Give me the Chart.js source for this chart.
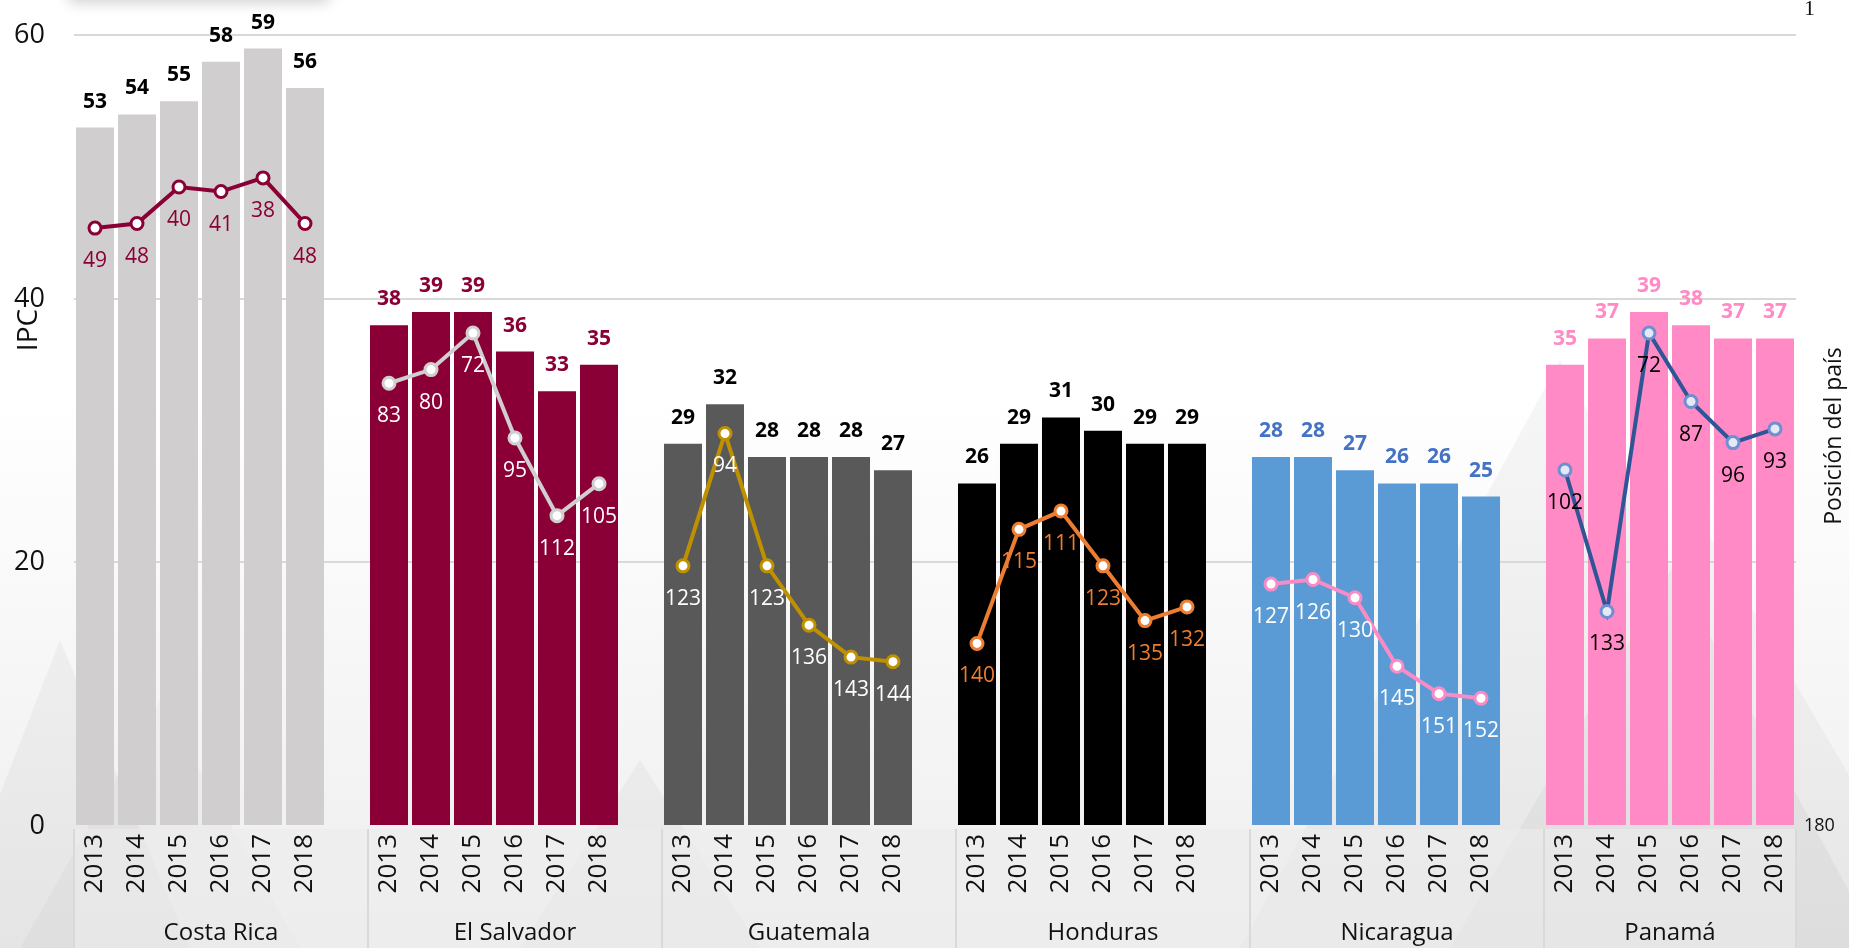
<!DOCTYPE html>
<html lang="es">
<head>
<meta charset="utf-8">
<title>IPC y posición del país</title>
<script src="https://cdn.jsdelivr.net/npm/chart.js@4.4.1/dist/chart.umd.min.js"></script>
<style>
  html, body { margin: 0; padding: 0; width: 1849px; height: 948px; overflow: hidden; background: #fff; }
  .wrap {
    position: relative; width: 1849px; height: 948px; overflow: hidden;
    background: linear-gradient(180deg, rgba(255,255,255,0) 42%, rgba(226,226,226,0.6) 100%), #fff;
  }
  .deco { position: absolute; left: 0; top: 0; }
  .shadow { position: absolute; left: 68px; top: -30px; width: 262px; height: 30px; background: #fff; box-shadow: 0 3px 14px rgba(0,0,0,0.18); border-radius: 6px; }
  canvas { position: absolute; left: 0; top: 0; }
</style>
</head>
<body>
<div class="wrap">
  <svg class="deco" width="1849" height="948">
    <polygon points="-60,948 60,640 190,948" fill="rgba(0,0,0,0.035)"/>
    <polygon points="20,948 160,700 300,948" fill="rgba(0,0,0,0.025)"/>
    <polygon points="520,948 640,760 760,948" fill="rgba(0,0,0,0.03)"/>
    <polygon points="1240,948 1560,360 1880,948" fill="rgba(0,0,0,0.035)"/>
    <polygon points="1450,948 1700,520 1950,948" fill="rgba(0,0,0,0.03)"/>
  </svg>
  <div class="shadow"></div>
  <canvas id="chart" width="1849" height="948"></canvas>
</div>
<script>
// --- datos ---
const countries = ['Costa Rica', 'El Salvador', 'Guatemala', 'Honduras', 'Nicaragua', 'Panamá'];
const years = ['2013', '2014', '2015', '2016', '2017', '2018'];

// IPC (barras, eje izquierdo)
const ipcCostaRica  = [53, 54, 55, 58, 59, 56];
const ipcElSalvador = [38, 39, 39, 36, 33, 35];
const ipcGuatemala  = [29, 32, 28, 28, 28, 27];
const ipcHonduras   = [26, 29, 31, 30, 29, 29];
const ipcNicaragua  = [28, 28, 27, 26, 26, 25];
const ipcPanama     = [35, 37, 39, 38, 37, 37];

// Posición del país (líneas, eje derecho invertido)
const rankCostaRica  = [49, 48, 40, 41, 38, 48];
const rankElSalvador = [83, 80, 72, 95, 112, 105];
const rankGuatemala  = [123, 94, 123, 136, 143, 144];
const rankHonduras   = [140, 115, 111, 123, 135, 132];
const rankNicaragua  = [127, 126, 130, 145, 151, 152];
const rankPanama     = [102, 133, 72, 87, 96, 93];

const ipcTicks = [0, 20, 40, 60];
const rankTicks = [1, 180];

const ipcSeries = [ipcCostaRica, ipcElSalvador, ipcGuatemala, ipcHonduras, ipcNicaragua, ipcPanama];
const rankSeries = [rankCostaRica, rankElSalvador, rankGuatemala, rankHonduras, rankNicaragua, rankPanama];

// --- estilos ---
const FONT = "'Open Sans', sans-serif";
const barColors      = ['#D0CECE', '#8A0036', '#595959', '#000000', '#5B9BD5', '#FF8AC5'];
const barLabelColors = ['#000000', '#8A0036', '#000000', '#000000', '#4472C4', '#FF8AC5'];
const lineColors     = ['#8A0036', '#D0CECE', '#BF9000', '#ED7D31', '#F98BC6', '#2F5597'];
const pointFills     = ['#FFFFFF', '#FFFFFF', '#FFFFFF', '#FFFFFF', '#FFFFFF', '#E4EAF5'];
const pointBorders   = ['#8A0036', '#D0CECE', '#BF9000', '#ED7D31', '#F98BC6', '#6E8FD2'];
const lineLabelColors = ['#8A0036', '#FFFFFF', '#FFFFFF', '#ED7D31', '#FFFFFF', '#000000'];

// 6 años + un hueco por país (el último sin hueco)
const slotsPerGroup = years.length + 1;
const labels = [];
countries.forEach((c, i) => {
  years.forEach(y => labels.push(y));
  if (i < countries.length - 1) labels.push('');
});

const spread = (arr, i) => {
  const out = new Array(labels.length).fill(null);
  arr.forEach((v, j) => { out[i * slotsPerGroup + j] = v; });
  return out;
};

const datasets = [];
countries.forEach((c, i) => {
  datasets.push({
    type: 'line', label: c + ' posición', data: spread(rankSeries[i], i), yAxisID: 'y2',
    borderColor: lineColors[i], borderWidth: 4, spanGaps: false,
    pointRadius: 6, pointBorderWidth: 3, pointBackgroundColor: pointFills[i], pointBorderColor: pointBorders[i],
    order: 0, kind: 'rank', idx: i
  });
});
countries.forEach((c, i) => {
  datasets.push({
    type: 'bar', label: c + ' IPC', data: spread(ipcSeries[i], i), yAxisID: 'y',
    backgroundColor: barColors[i], grouped: false, barPercentage: 0.905, categoryPercentage: 1,
    order: 1, kind: 'ipc', idx: i
  });
});

// fondo del eje X, separadores y nombres de país
const axisBoxes = {
  id: 'axisBoxes',
  beforeDraw(chart) {
    const { ctx, chartArea, scales: { x } } = chart;
    const slot = (x.right - x.left) / labels.length;
    ctx.save();
    ctx.fillStyle = 'rgba(236,236,236,0.6)';
    ctx.fillRect(chartArea.left, chartArea.bottom + 3, chartArea.right - chartArea.left, chart.height - chartArea.bottom);
    ctx.strokeStyle = '#D9D9D9';
    ctx.lineWidth = 2;
    for (let k = 0; k <= countries.length; k++) {
      const px = Math.min(x.left + k * slotsPerGroup * slot, x.right);
      ctx.beginPath();
      ctx.moveTo(px, chartArea.bottom + 3);
      ctx.lineTo(px, chart.height);
      ctx.stroke();
    }
    ctx.restore();
  },
  afterDraw(chart) {
    const { ctx, scales: { x } } = chart;
    const slot = (x.right - x.left) / labels.length;
    ctx.save();
    ctx.fillStyle = '#111';
    ctx.font = '24px ' + FONT;
    ctx.textAlign = 'center';
    ctx.textBaseline = 'middle';
    countries.forEach((c, k) => {
      const a = x.left + k * slotsPerGroup * slot;
      const b = Math.min(a + slotsPerGroup * slot, x.right);
      ctx.fillText(c, (a + b) / 2, 933);
    });
    // títulos de los ejes
    ctx.font = '28px ' + FONT;
    ctx.translate(29, 330);
    ctx.rotate(-Math.PI / 2);
    ctx.fillText('IPC', 0, 0);
    ctx.restore();
    ctx.save();
    ctx.fillStyle = '#111';
    ctx.font = '23px ' + FONT;
    ctx.textAlign = 'center';
    ctx.textBaseline = 'middle';
    ctx.translate(1834, 436);
    ctx.rotate(-Math.PI / 2);
    ctx.fillText('Posición del país', 0, 0);
    ctx.restore();
  }
};

// etiquetas de datos
const valueLabels = {
  id: 'valueLabels',
  afterDatasetsDraw(chart) {
    const { ctx } = chart;
    ctx.save();
    ctx.textAlign = 'center';
    ctx.textBaseline = 'middle';
    chart.data.datasets.forEach((ds, di) => {
      const meta = chart.getDatasetMeta(di);
      meta.data.forEach((el, j) => {
        const v = ds.data[j];
        if (v === null) return;
        if (ds.kind === 'ipc') {
          ctx.font = 'bold 21px ' + FONT;
          ctx.fillStyle = barLabelColors[ds.idx];
          ctx.fillText(v, el.x, el.y - 26);
        } else {
          ctx.font = '21px ' + FONT;
          ctx.fillStyle = lineLabelColors[ds.idx];
          ctx.fillText(v, el.x, el.y + 33);
        }
      });
    });
    ctx.restore();
  }
};

new Chart(document.getElementById('chart').getContext('2d'), {
  data: { labels, datasets },
  plugins: [axisBoxes, valueLabels],
  options: {
    responsive: false,
    animation: false,
    layout: { padding: { top: 3, left: 0, right: 0, bottom: 0 } },
    plugins: { legend: { display: false }, tooltip: { enabled: false } },
    scales: {
      x: {
        type: 'category',
        grid: { display: false, drawTicks: false },
        border: { display: false },
        ticks: { autoSkip: false, minRotation: 90, maxRotation: 90, padding: 8, color: '#111', font: { family: FONT, size: 26 } },
        afterFit(axis) { axis.height = 122; axis.paddingLeft = 0; axis.paddingRight = 0; }
      },
      y: {
        position: 'left', min: 0, max: 62,
        grid: { color: (c) => c.tick && c.tick.value === 0 ? 'rgba(0,0,0,0)' : '#D9D9D9', lineWidth: 2, drawTicks: false },
        border: { display: false },
        ticks: { padding: 29, color: '#111', font: { family: FONT, size: 27 } },
        afterBuildTicks(axis) { axis.ticks = ipcTicks.map(v => ({ value: v })); },
        afterFit(axis) { axis.width = 74; axis.paddingTop = 0; axis.paddingBottom = 0; }
      },
      y2: {
        position: 'right', reverse: true, min: 1, max: 180,
        grid: { display: false, drawTicks: false },
        border: { display: false },
        ticks: {
          padding: 8, color: '#111',
          font: (c) => c.tick && c.tick.value === 1 ? { family: "'Liberation Serif', serif", size: 22 } : { family: FONT, size: 18 }
        },
        afterBuildTicks(axis) { axis.ticks = rankTicks.map(v => ({ value: v })); },
        afterFit(axis) { axis.width = 53; axis.paddingTop = 0; axis.paddingBottom = 0; }
      }
    }
  }
});
</script>
</body>
</html>
